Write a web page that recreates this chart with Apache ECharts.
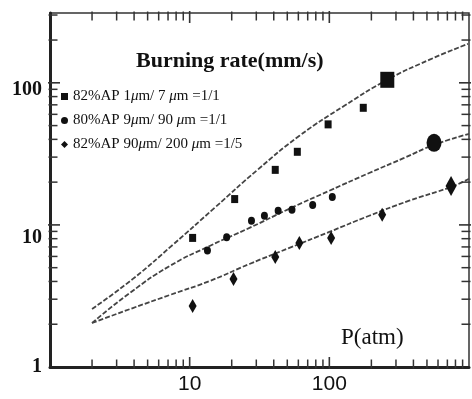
<!DOCTYPE html>
<html>
<head>
<meta charset="utf-8">
<script src="https://cdn.jsdelivr.net/npm/echarts@6/dist/echarts.min.js"></script>
<style>
  html, body { margin: 0; padding: 0; background: #fff; }
  #chart { width: 472px; height: 399px; }
</style>
</head>
<body>
<div id="chart"></div>
<script>
// measured points (pressure in atm, burning rate in mm/s)
const sqName = "82%AP 1μm/ 7 μm =1/1";
const sqP = [10.5, 21, 41, 59, 98, 175, 260];
const sqR = [8.1, 15.2, 24.4, 32.7, 51, 66.7, 105];

const ciName = "80%AP 9μm/ 90 μm =1/1";
const ciP = [13.4, 18.4, 27.7, 34.3, 43, 54, 76, 105, 562];
const ciR = [6.6, 8.2, 10.7, 11.6, 12.6, 12.8, 13.8, 15.7, 37.8];

const diName = "82%AP 90μm/ 200 μm =1/5";
const diP = [10.5, 20.6, 41, 61, 103, 239, 744];
const diR = [2.69, 4.17, 5.95, 7.47, 8.1, 11.8, 18.8];

// fitted curves
const fitSqP = [2.0, 3.92, 7.56, 15.1, 30.6, 61.1, 128, 260, 518, 984];
const fitSqR = [2.56, 4.17, 7.23, 13.2, 24.4, 42.4, 68.9, 105, 145, 188];

const fitCiP = [2.0, 3.73, 7.2, 13.9, 26.8, 51.8, 100, 193, 343, 562, 1000];
const fitCiR = [2.04, 3.32, 5.14, 7.11, 9.53, 13.0, 17.4, 23.2, 29.6, 36.6, 43.7];

const fitDiP = [2.0, 3.92, 7.2, 13.9, 26.8, 51.8, 100, 193, 373, 744, 1000];
const fitDiR = [2.04, 2.6, 3.21, 4.03, 5.31, 6.89, 8.93, 11.6, 14.8, 18.5, 21.1];

// axis ranges and ticks
const xMin = 1, xMax = 1000;
const yMin = 1, yMax = 310;
const xLabels = [10, 100];
const yLabels = [1, 10, 100];
const xMajorTicks = [10, 100];
const xMinorTicks = [2, 3, 4, 5, 6, 7, 8, 9, 20, 30, 40, 50, 60, 70, 80, 90, 200, 300, 400, 500, 600, 700, 800, 900];
const yMajorTicks = [10, 100];
const yMinorTicks = [2, 3, 4, 5, 6, 7, 8, 9, 20, 30, 40, 50, 60, 70, 80, 90, 200, 300];

const zip = (a, b) => a.map((v, i) => [v, b[i]]);
const ink = "#111";

function sizeBy(small, big, n) {
  return (val, params) => (params.dataIndex === n - 1 ? big : small);
}

function fitLine(p, r) {
  return {
    type: "line",
    data: zip(p, r),
    smooth: 0.5,
    showSymbol: false,
    silent: true,
    lineStyle: { color: "#444", width: 1.8, type: [5, 2] },
    z: 2,
  };
}

// inward ticks on the frame, drawn as thin rect symbols sitting on an edge
function ticks(data, size, offset) {
  return {
    type: "scatter",
    data: data,
    symbol: "rect",
    symbolSize: size,
    symbolOffset: offset,
    clip: false,
    silent: true,
    itemStyle: { color: "#333", opacity: 1 },
    z: 5,
  };
}

const chart = echarts.init(document.getElementById("chart"), null, { renderer: "canvas" });

chart.setOption({
  animation: false,
  backgroundColor: "#fff",
  grid: {
    left: 50, right: 3, top: 13, bottom: 32,
    show: true, borderColor: "#333", borderWidth: 1.5,
  },
  title: [
    {
      text: "Burning rate(mm/s)",
      left: 136, top: 50, padding: 0,
      textStyle: { fontFamily: "Liberation Serif", fontWeight: "bold", fontSize: 22, color: ink },
    },
    {
      text: "P(atm)",
      left: 341, top: 326, padding: 0,
      textStyle: { fontFamily: "Liberation Serif", fontWeight: "normal", fontSize: 23, color: ink },
    },
  ],
  legend: {
    orient: "vertical",
    left: 61, top: 88,
    itemWidth: 7, itemHeight: 7, itemGap: 7,
    padding: 0,
    selectedMode: false,
    data: [
      { name: sqName, icon: "rect" },
      { name: ciName, icon: "circle" },
      { name: diName, icon: "diamond" },
    ],
    formatter: (name) => name.replace(/μ/g, "{it|μ}"),
    textStyle: {
      fontFamily: "Liberation Serif", fontSize: 15, color: ink, lineHeight: 17,
      rich: { it: { fontFamily: "Liberation Serif", fontStyle: "italic", fontSize: 15, color: ink } },
    },
  },
  xAxis: {
    type: "log", logBase: 10, min: xMin, max: xMax,
    axisLine: { onZero: false, lineStyle: { color: "#222", width: 3 } },
    axisTick: { show: false },
    splitLine: { show: false },
    axisLabel: {
      margin: 7,
      fontFamily: "'Liberation Sans Narrow', 'Liberation Sans', sans-serif",
      fontSize: 21, color: ink,
      formatter: (v) => (xLabels.some((t) => Math.abs(t - v) < 1e-6 * t) ? String(Math.round(v)) : ""),
    },
  },
  yAxis: {
    type: "log", logBase: 10, min: yMin, max: yMax,
    axisLine: { onZero: false, lineStyle: { color: "#222", width: 3 } },
    axisTick: { show: false },
    splitLine: { show: false },
    axisLabel: {
      margin: 8,
      fontFamily: "Liberation Serif", fontWeight: "bold", fontSize: 20, color: ink,
      formatter: (v) => {
        const t = yLabels.find((t) => Math.abs(t - v) < 1e-6 * t);
        if (t === undefined) return "";
        return t === 1 ? "1" : "{l" + t + "|" + t + "}";
      },
      rich: {
        l10: { padding: [26, 0, 0, 0], fontFamily: "Liberation Serif", fontWeight: "bold", fontSize: 20, color: ink },
        l100: { padding: [14, 0, 0, 0], fontFamily: "Liberation Serif", fontWeight: "bold", fontSize: 20, color: ink },
      },
    },
  },
  series: [
    fitLine(fitSqP, fitSqR),
    fitLine(fitCiP, fitCiR),
    fitLine(fitDiP, fitDiR),
    {
      name: sqName, type: "scatter", data: zip(sqP, sqR),
      symbol: "rect", symbolSize: sizeBy([7, 8], [14, 16], sqP.length),
      itemStyle: { color: ink, opacity: 1 }, z: 4,
    },
    {
      name: ciName, type: "scatter", data: zip(ciP, ciR),
      symbol: "circle", symbolSize: sizeBy([7, 8], [15, 18], ciP.length),
      itemStyle: { color: ink, opacity: 1 }, z: 4,
    },
    {
      name: diName, type: "scatter", data: zip(diP, diR),
      symbol: "diamond", symbolSize: sizeBy([8, 14], [11, 20], diP.length),
      itemStyle: { color: ink, opacity: 1 }, z: 4,
    },
    // bottom and top edges
    ticks(xMajorTicks.map((v) => [v, yMin]), [1.6, 12], [0, -4]),
    ticks(xMinorTicks.map((v) => [v, yMin]), [1.5, 9], [0, -3]),
    ticks(xMajorTicks.map((v) => [v, yMax]), [1.6, 12], [0, 4]),
    ticks(xMinorTicks.map((v) => [v, yMax]), [1.5, 9], [0, 3]),
    // left and right edges
    ticks(yMajorTicks.map((v) => [xMin, v]), [12, 1.6], [4, 0]),
    ticks(yMinorTicks.map((v) => [xMin, v]), [9, 1.5], [3, 0]),
    ticks(yMajorTicks.map((v) => [xMax, v]), [12, 1.6], [-4, 0]),
    ticks(yMinorTicks.map((v) => [xMax, v]), [9, 1.5], [-3, 0]),
  ],
});
</script>
</body>
</html>
